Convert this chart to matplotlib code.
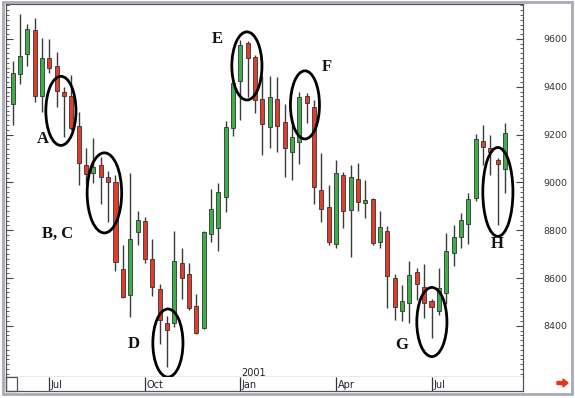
import matplotlib
matplotlib.use("Agg")
import matplotlib.pyplot as plt
import matplotlib.transforms as mtransforms
from matplotlib.patches import Ellipse, Rectangle, FancyArrow
from matplotlib.ticker import MultipleLocator
import numpy as np
import pandas as pd

# weekly candles, starting Monday 29 May 2000
dates = pd.date_range("2000-05-29", periods=68, freq="W-MON")

opens = [9328, 9454, 9537, 9638, 9362, 9521, 9487, 9378, 9362, 9236,
         9073, 9039, 9073, 9023, 9002, 8638, 8529, 8792, 8839, 8680,
         8554, 8412, 8412, 8663, 8617, 8483, 8391, 8784, 8809, 8939,
         9228, 9424, 9583, 9525, 9349, 9232, 9349, 9253, 9127, 9169,
         9362, 9315, 8968, 8897, 8742, 9031, 8885, 9014, 8914, 8931,
         8751, 8797, 8600, 8462, 8495, 8625, 8562, 8504, 8462, 8537,
         8705, 8772, 8826, 8935, 9173, 9144, 9094, 9056]
highs = [9508, 9705, 9663, 9688, 9604, 9600, 9546, 9399, 9449, 9295,
         9144, 9186, 9106, 9048, 9031, 8738, 9039, 8880, 8855, 8763,
         8575, 8441, 8797, 8726, 8663, 8533, 8795, 8972, 8998, 9257,
         9433, 9596, 9592, 9533, 9445, 9445, 9441, 9328, 9269, 9378,
         9374, 9345, 9123, 8989, 9094, 9044, 9073, 9081, 9010, 8935,
         8880, 8818, 8617, 8571, 8671, 8642, 8659, 8512, 8642, 8788,
         8822, 8872, 8956, 9203, 9240, 9198, 9102, 9249]
lows = [9240, 9412, 9487, 9336, 9295, 9458, 9315, 9190, 9219, 8989,
        8993, 8998, 8910, 8834, 8629, 8516, 8437, 8738, 8663, 8525,
        8324, 8228, 8395, 8512, 8466, 8365, 8387, 8751, 8713, 8876,
        9194, 9261, 9357, 9290, 9115, 9144, 9127, 9023, 9010, 9077,
        9249, 8910, 8834, 8740, 8726, 8809, 8688, 8880, 8851, 8738,
        8726, 8475, 8424, 8420, 8412, 8508, 8433, 8349, 8445, 8491,
        8650, 8726, 8742, 8922, 9073, 9031, 8822, 8956]
closes = [9458, 9529, 9642, 9362, 9521, 9479, 9382, 9362, 9228, 9081,
          9035, 9064, 9023, 9002, 8667, 8521, 8763, 8843, 8680, 8562,
          8424, 8382, 8671, 8600, 8475, 8370, 8792, 8889, 8960, 9232,
          9416, 9575, 9521, 9345, 9244, 9357, 9236, 9144, 9190, 9357,
          9332, 8981, 8889, 8751, 9039, 8880, 9023, 8918, 8926, 8746,
          8813, 8608, 8479, 8504, 8613, 8575, 8495, 8479, 8558, 8713,
          8772, 8843, 8931, 9182, 9148, 9127, 9077, 9207]

price_labels = [8400, 8600, 8800, 9000, 9200, 9400, 9600]

# circled patterns: label, ellipse centre (week, price), size, label position
notes = [
    ("A", 6.57, 9299, 4.1, 289, 4.12, 9182),
    ("B, C", 12.49, 8956, 4.7, 335, 6.16, 8784),
    ("D", 21.13, 8328, 4.1, 285, 16.43, 8324),
    ("E", 31.88, 9487, 4.1, 285, 27.8, 9600),
    ("F", 39.78, 9324, 3.95, 285, 42.69, 9483),
    ("G", 57.05, 8416, 4.1, 289, 52.9, 8320),
    ("H", 66.03, 8960, 4.1, 372, 65.9, 8742),
]

GREEN = "#3dae4a"
RED = "#e23d2b"

fig = plt.figure(figsize=(5.75, 3.98), dpi=100)
W, H = 575.0, 398.0
ax = fig.add_axes([6 / W, (H - 377) / H, 517 / W, 373 / H])

x = np.arange(len(dates))
o = np.array(opens)
c = np.array(closes)
cols = [GREEN if cc >= oo else RED for oo, cc in zip(o, c)]

ax.vlines(x, lows, highs, color="#3a3a3a", lw=1.0, zorder=2)
ax.bar(x, np.abs(c - o), bottom=np.minimum(o, c), width=0.55,
       color=cols, edgecolor="#333333", linewidth=0.6, zorder=3)

for lab, cx, cy, w, h, tx, ty in notes:
    ax.add_patch(Ellipse((cx, cy), w, h, fill=False, ec="black", lw=2.0, zorder=4))
    ax.text(tx, ty, lab, ha="center", va="center", fontsize=12,
            fontweight="bold", family="Liberation Serif", color="#111111")

ax.set_xlim(-0.9, 69.45)
ax.set_ylim(8186, 9746)
ax.set_xticks([])
ax.set_yticks(price_labels)
ax.yaxis.set_minor_locator(MultipleLocator(20))
ax.tick_params(axis="y", which="both", direction="in", left=True, right=True,
               labelleft=False, labelright=True, colors="#444444")
ax.tick_params(axis="y", which="major", length=5, width=0.8, pad=14.5,
               labelsize=6.8, labelcolor="#333333")
ax.tick_params(axis="y", which="minor", length=2.5, width=0.6)
for s in ax.spines.values():
    s.set_color("#555555")
    s.set_linewidth(0.9)

# month strip under the chart
sx = fig.add_axes([6 / W, (H - 391) / H, 517 / W, 14 / H])
sx.set_xlim(ax.get_xlim())
sx.set_ylim(0, 1)
sx.set_xticks([])
sx.set_yticks([])
for s in sx.spines.values():
    s.set_color("#555555")
    s.set_linewidth(0.9)
sx.spines["top"].set_visible(False)

tick_idx = [i for i, d in enumerate(dates)
            if d.month in (1, 4, 7, 10) and (i == 0 or dates[i - 1].month != d.month)]
for i in tick_idx:
    sx.vlines(i, 0, 1, color="#333333", lw=0.9)
    sx.text(i + 0.2, 0.45, dates[i].strftime("%b"), ha="left", va="center",
            fontsize=7, color="#222222")
    if dates[i].month == 1:
        trans = mtransforms.blended_transform_factory(sx.transData, sx.transAxes)
        sx.text(i + 0.15, 1.3, str(dates[i].year), transform=trans, ha="left",
                va="center", fontsize=7, color="#222222")

# small corner box and outer frame
fig.patches.append(Rectangle((6, H - 391), 11, 14, fill=False, ec="#555555",
                             lw=0.9, transform=mtransforms.IdentityTransform()))
fig.patches.append(Rectangle((3, H - 394), 569, 392, fill=False, ec="#a9a9b9",
                             lw=2.0, transform=mtransforms.IdentityTransform()))
fig.patches.append(FancyArrow(557, H - 383, 6, 0, width=3, head_width=8,
                              head_length=5, color="#e8321e",
                              transform=mtransforms.IdentityTransform()))

fig.savefig("out.png", dpi=100)
